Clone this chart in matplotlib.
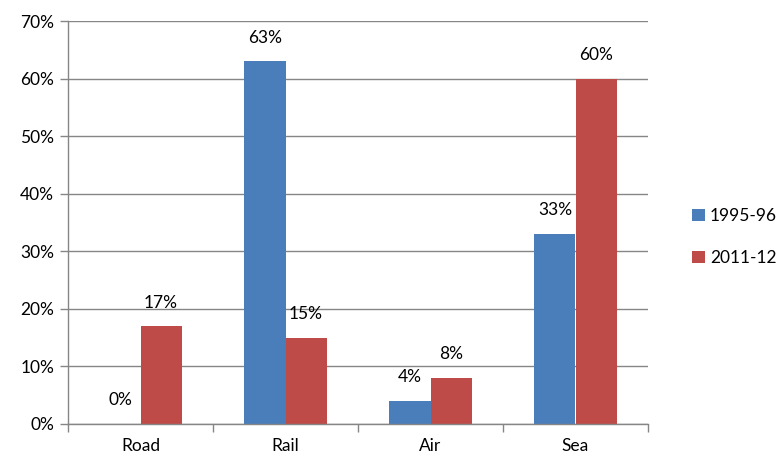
import matplotlib
matplotlib.use("Agg")
import matplotlib.pyplot as plt
import numpy as np

categories = ["Road", "Rail", "Air", "Sea"]
series_names = ["1995-96", "2011-12"]
values_1995 = [0, 63, 4, 33]
values_2011 = [17, 15, 8, 60]
y_ticks = [0, 10, 20, 30, 40, 50, 60, 70]

colors = ["#4A7EBB", "#BE4B48"]
grid_color = "#868686"
fs = 12.5

plt.rcParams["font.family"] = ["Lato", "DejaVu Sans"]

fig = plt.figure(figsize=(7.78, 4.59), dpi=100)
ax = fig.add_axes([68 / 778, 35 / 459, 580 / 778, 403 / 459])

x = np.arange(len(categories))
w = 0.283
bars_a = ax.bar(x - w / 2, values_1995, w, color=colors[0], label=series_names[0], zorder=3)
bars_b = ax.bar(x + w / 2, values_2011, w, color=colors[1], label=series_names[1], zorder=3)

for bars, vals in ((bars_a, values_1995), (bars_b, values_2011)):
    for b, v in zip(bars, vals):
        ax.annotate(f"{v}%", (b.get_x() + b.get_width() / 2, v),
                    xytext=(0, 17), textcoords="offset points",
                    ha="center", va="center", fontsize=fs, color="#000000")

ax.set_xlim(-0.5, len(categories) - 0.5)
ax.set_ylim(0, 70)
ax.set_yticks(y_ticks)
ax.set_yticklabels([f"{t}%" for t in y_ticks])
ax.set_xticks(x)
ax.set_xticklabels(categories)
ax.set_xticks(np.arange(len(categories) + 1) - 0.5, minor=True)

ax.tick_params(axis="x", which="major", length=0, pad=10, labelsize=fs)
ax.tick_params(axis="x", which="minor", length=6, color=grid_color, width=1)
ax.tick_params(axis="y", length=6, color=grid_color, width=1, labelsize=fs, pad=4)

ax.grid(axis="y", color=grid_color, linewidth=1, zorder=0)
for s in ("top", "right"):
    ax.spines[s].set_visible(False)
for s in ("left", "bottom"):
    ax.spines[s].set_color(grid_color)
    ax.spines[s].set_linewidth(1)
    ax.spines[s].set_zorder(4)

leg = fig.legend(handles=[bars_a, bars_b], labels=series_names,
                 loc="center left", bbox_to_anchor=(676 / 778, 1 - 237 / 459),
                 frameon=False, fontsize=fs, handlelength=0.75, handleheight=0.75,
                 handletextpad=0.3, labelspacing=1.5)

fig.savefig("out.png", dpi=100)
